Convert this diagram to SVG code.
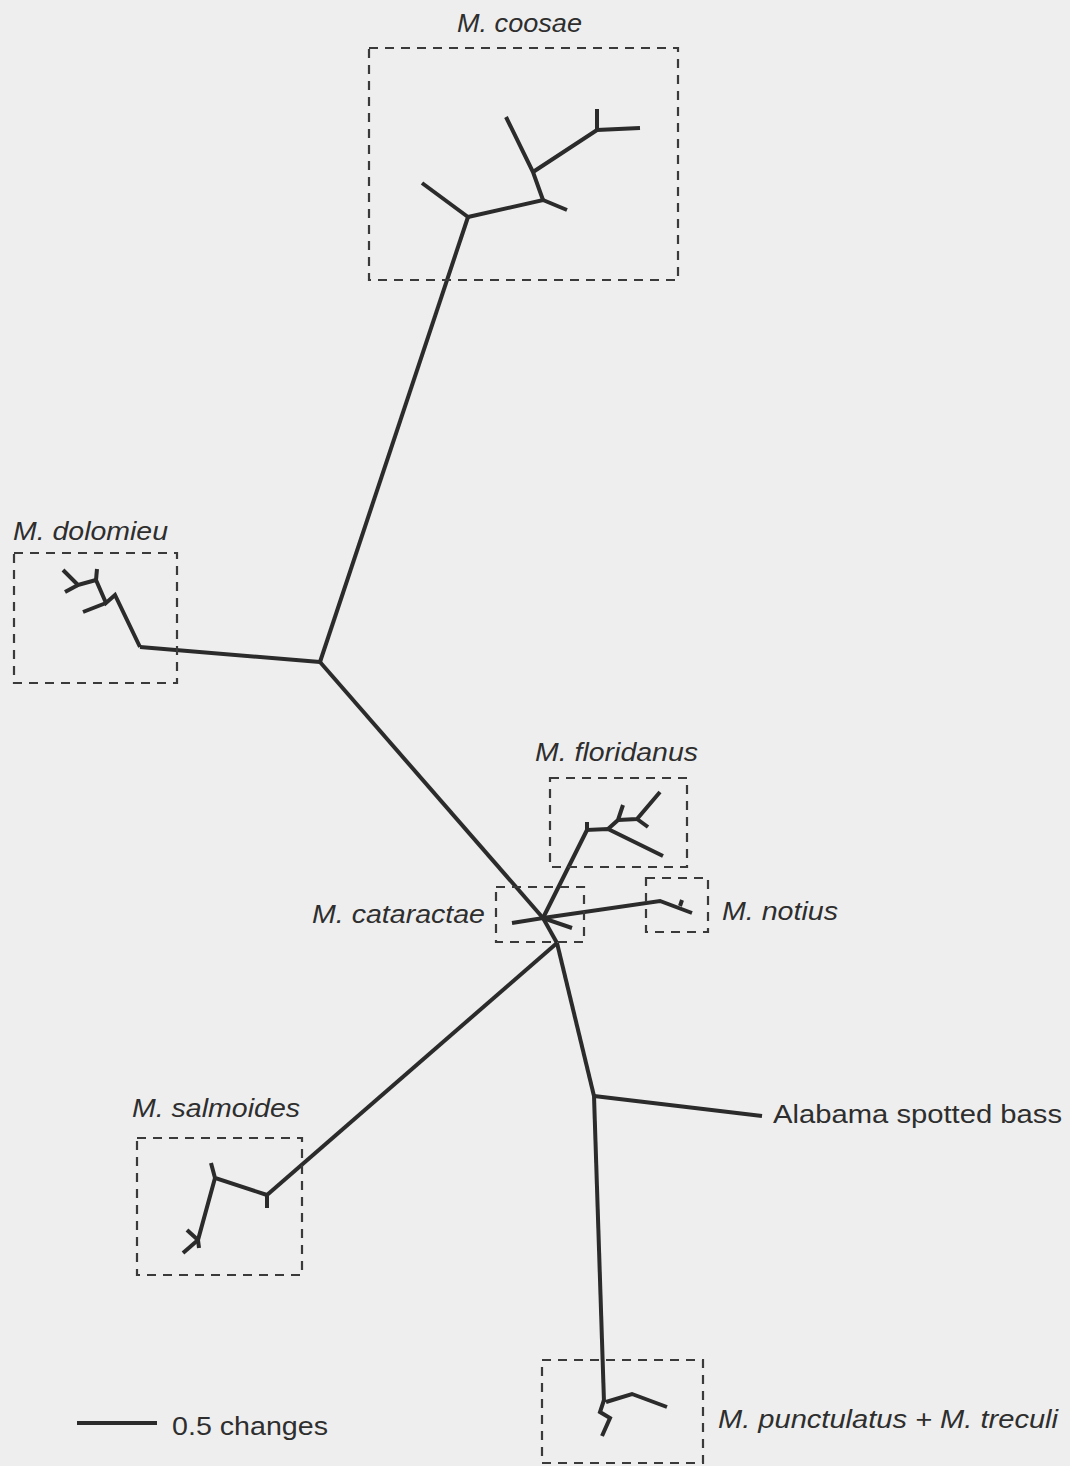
<svg xmlns="http://www.w3.org/2000/svg" width="1070" height="1466" viewBox="0 0 1070 1466">
<style>
.bg{fill:#eeeeee}
.br{fill:none;stroke:#2b2b2b;stroke-width:4;stroke-linecap:butt;stroke-linejoin:miter}
.box{fill:none;stroke:#3a3a3a;stroke-width:2.2;stroke-dasharray:9 7}
.lab{font-family:"Liberation Sans",Arial,sans-serif;font-size:26px;fill:#2e2e2e}
.it{font-style:italic}
</style>
<rect class="bg" x="0" y="0" width="1070" height="1466"/>

<g id="connectors">
  <polyline class="br" points="320,662 543,918"/>
  <polyline class="br" points="320,662 468,217"/>
  <polyline class="br" points="320,662 140,647"/>
  <polyline class="br" points="543,918 587,830"/>
  <polyline class="br" points="543,918 660,901 692,913"/>
  <polyline class="br" points="543,918 557,943"/>
  <polyline class="br" points="557,943 267,1195"/>
  <polyline class="br" points="557,943 594,1096"/>
  <polyline class="br" points="594,1096 762,1116"/>
  <polyline class="br" points="594,1096 604,1402"/>
  <polyline class="br" points="468,217 422,183"/>
  <polyline class="br" points="468,217 543,200 567,210"/>
  <polyline class="br" points="543,200 533,172 506,117"/>
  <polyline class="br" points="533,172 597,130 640,128"/>
  <polyline class="br" points="597,130 597,109"/>
  <polyline class="br" points="140,647 115,595 106,603 96,580"/>
  <polyline class="br" points="106,603 83,612"/>
  <polyline class="br" points="96,580 97,569"/>
  <polyline class="br" points="96,580 78,585 63,570"/>
  <polyline class="br" points="78,585 65,592"/>
  <polyline class="br" points="587,822 587,830 608,829 663,856"/>
  <polyline class="br" points="608,829 618,820 623,805"/>
  <polyline class="br" points="618,820 637,819 660,792"/>
  <polyline class="br" points="637,819 648,827"/>
  <polyline class="br" points="680,906 682,900"/>
  <polyline class="br" points="512,923 543,918 572,928"/>
  <polyline class="br" points="267,1195 267,1208"/>
  <polyline class="br" points="267,1195 215,1178 211,1163"/>
  <polyline class="br" points="215,1178 198,1240 199,1248"/>
  <polyline class="br" points="198,1240 187,1230"/>
  <polyline class="br" points="198,1240 183,1253"/>
  <polyline class="br" points="606,1402 632,1394 667,1407"/>
  <polyline class="br" points="604,1400 600,1412 610,1418 602,1436"/>
</g>

<g id="coosae">
  <rect class="box" x="369" y="48" width="309" height="232"/>
  <text class="lab it" x="457" y="32" textLength="125" lengthAdjust="spacingAndGlyphs">M. coosae</text>
</g>
<g id="dolomieu">
  <rect class="box" x="14" y="553" width="163" height="130"/>
  <text class="lab it" x="13" y="540" textLength="155" lengthAdjust="spacingAndGlyphs">M. dolomieu</text>
</g>
<g id="floridanus">
  <rect class="box" x="550" y="778" width="137" height="89"/>
  <text class="lab it" x="535" y="761" textLength="163" lengthAdjust="spacingAndGlyphs">M. floridanus</text>
</g>
<g id="notius">
  <rect class="box" x="646" y="878" width="62" height="54"/>
  <text class="lab it" x="722" y="920" textLength="116" lengthAdjust="spacingAndGlyphs">M. notius</text>
</g>
<g id="cataractae">
  <rect class="box" x="496" y="887" width="88" height="55"/>
  <text class="lab it" x="312" y="923" textLength="173" lengthAdjust="spacingAndGlyphs">M. cataractae</text>
</g>
<g id="salmoides">
  <rect class="box" x="137" y="1138" width="165" height="137"/>
  <text class="lab it" x="132" y="1117" textLength="168" lengthAdjust="spacingAndGlyphs">M. salmoides</text>
</g>
<g id="alabama">
  <text class="lab" x="773" y="1123" textLength="289" lengthAdjust="spacingAndGlyphs">Alabama spotted bass</text>
</g>
<g id="punctulatus">
  <rect class="box" x="542" y="1360" width="161" height="103"/>
  <text class="lab it" x="718" y="1428" textLength="340" lengthAdjust="spacingAndGlyphs">M. punctulatus + M. treculi</text>
</g>
<g id="scale">
  <line class="br" x1="77" y1="1423" x2="157" y2="1423"/>
  <text class="lab" x="172" y="1435" textLength="156" lengthAdjust="spacingAndGlyphs">0.5 changes</text>
</g>
</svg>
